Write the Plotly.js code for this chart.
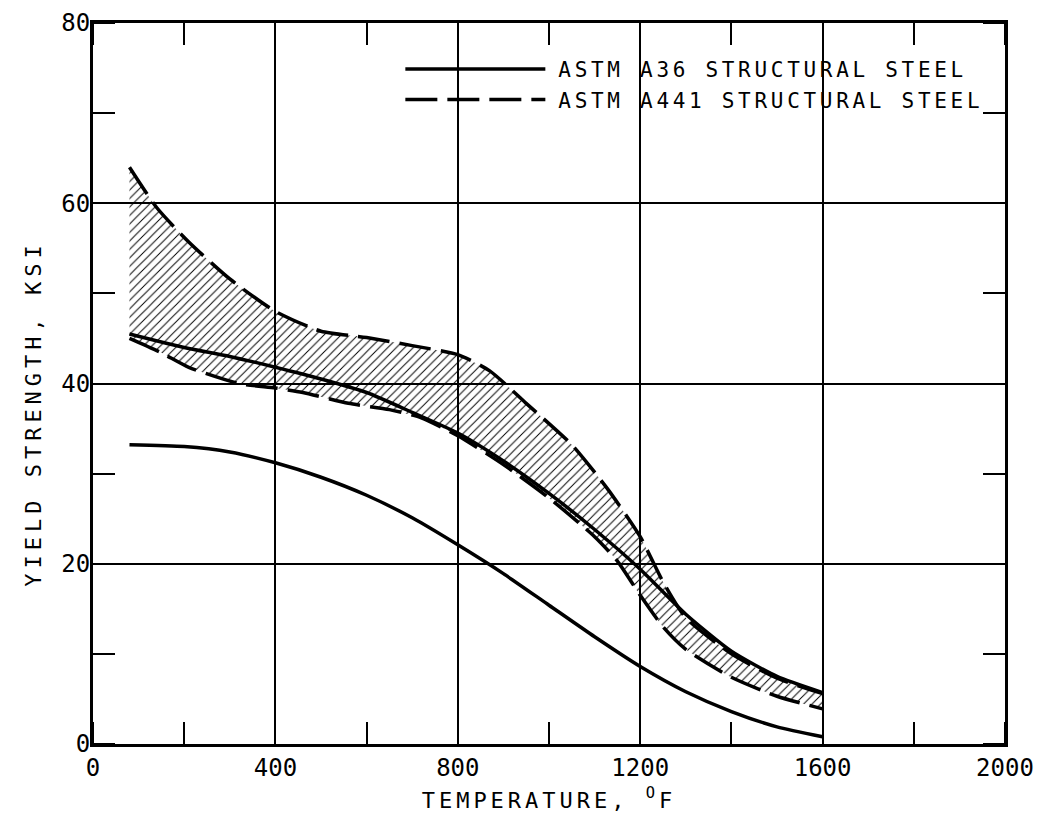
<!DOCTYPE html>
<html>
<head>
<meta charset="utf-8">
<script src="https://cdn.plot.ly/plotly-3.0.1.min.js"></script>
<style>
  html, body { margin: 0; padding: 0; background: #fff; }
  #chart { width: 1037px; height: 824px; }
  .legendtext { letter-spacing: 3.7px; }
  .g-xtitle text { letter-spacing: 4px; }
  .g-ytitle text { letter-spacing: 5px; }
</style>
</head>
<body>
<div id="chart"></div>
<script>
// ---- data ----
const a36LowTemp = [80, 200, 300, 400, 500, 600, 700, 800, 900, 1000, 1100, 1200, 1300, 1400, 1500, 1600];
const a36LowYield = [33.2, 33.0, 32.4, 31.2, 29.6, 27.6, 25.1, 22.1, 18.9, 15.4, 11.9, 8.6, 5.8, 3.6, 1.9, 0.8];

const a36UpTemp = [80, 200, 300, 400, 500, 600, 700, 800, 900, 1000, 1100, 1200, 1300, 1400, 1500, 1600];
const a36UpYield = [45.5, 44.0, 43.0, 41.8, 40.5, 39.0, 36.8, 34.5, 31.4, 27.8, 23.8, 19.4, 14.4, 10.3, 7.5, 5.7];

const a441UpTemp = [80, 140, 210, 300, 400, 500, 600, 700, 800, 870, 950, 1050, 1130, 1200, 1250, 1300, 1400, 1500, 1600];
const a441UpYield = [64.0, 59.5, 55.7, 51.6, 48.0, 45.8, 45.1, 44.2, 43.2, 41.4, 37.8, 33.2, 28.2, 23.0, 18.0, 14.0, 10.0, 7.3, 5.6];

const a441LowTemp = [80, 150, 210, 320, 400, 460, 560, 650, 720, 800, 900, 1000, 1100, 1150, 1200, 1250, 1300, 1400, 1500, 1600];
const a441LowYield = [45.0, 43.4, 41.8, 40.0, 39.5, 39.0, 37.8, 37.1, 36.2, 34.2, 31.0, 27.3, 23.0, 20.3, 16.5, 13.0, 10.5, 7.4, 5.3, 3.9];

const seriesNames = ['ASTM A36 STRUCTURAL STEEL', 'ASTM A441 STRUCTURAL STEEL'];
const xTickVals = [0, 400, 800, 1200, 1600, 2000];
const yTickVals = [0, 20, 40, 60, 80];

const FONT = 'DejaVu Sans Mono, monospace';
const DASH = '32px,10px';

const traces = [
  { x: a36UpTemp, y: a36UpYield, mode: 'lines', type: 'scatter',
    name: seriesNames[0],
    line: { color: '#000', width: 3.5, shape: 'spline', smoothing: 0.6 },
    hoverinfo: 'skip' },
  { x: a36LowTemp, y: a36LowYield, mode: 'lines', type: 'scatter',
    line: { color: '#000', width: 3.5, shape: 'spline', smoothing: 0.6 },
    showlegend: false, hoverinfo: 'skip' },
  { x: a441LowTemp, y: a441LowYield, mode: 'lines', type: 'scatter',
    line: { color: '#000', width: 3.5, dash: DASH, shape: 'spline', smoothing: 0.6 },
    showlegend: false, hoverinfo: 'skip' },
  { x: a441UpTemp, y: a441UpYield, mode: 'lines', type: 'scatter',
    name: seriesNames[1],
    line: { color: '#000', width: 3.5, dash: DASH, shape: 'spline', smoothing: 0.6 },
    fill: 'tonexty', fillcolor: 'rgba(0,0,0,0)',
    fillpattern: { shape: '/', size: 6, solidity: 0.16, fgcolor: '#000', bgcolor: 'rgba(255,255,255,0)' },
    hoverinfo: 'skip' }
];

const minorX = { dtick: 200, tick0: 0, ticks: 'inside', ticklen: 22, tickwidth: 2, tickcolor: '#000', showgrid: false };
const minorY = { dtick: 10, tick0: 0, ticks: 'inside', ticklen: 22, tickwidth: 2, tickcolor: '#000', showgrid: false };

const layout = {
  width: 1037, height: 824,
  margin: { l: 93, r: 32, t: 23, b: 80 },
  paper_bgcolor: '#fff', plot_bgcolor: '#fff',
  font: { family: FONT, color: '#000', size: 22 },
  showlegend: true,
  legend: {
    x: 0.337, xanchor: 'left', y: 0.964, yanchor: 'top',
    bgcolor: 'rgba(0,0,0,0)', borderwidth: 0, traceorder: 'normal',
    font: { family: FONT, size: 21, color: '#000' },
    tracegroupgap: 0, itemwidth: 30
  },
  xaxis: {
    range: [0, 2000], tickvals: xTickVals, ticktext: xTickVals.map(String),
    showgrid: true, gridcolor: '#000', gridwidth: 2, zeroline: false,
    showline: true, linecolor: '#000', linewidth: 3, mirror: 'ticks',
    ticks: '', minor: minorX,
    tickfont: { family: FONT, size: 24, color: '#000' },
    title: { text: 'TEMPERATURE, <sup>O</sup>F', font: { family: FONT, size: 22, color: '#000' }, standoff: 12 }
  },
  yaxis: {
    range: [0, 80], tickvals: yTickVals, ticktext: yTickVals.map(String),
    showgrid: true, gridcolor: '#000', gridwidth: 2, zeroline: false,
    showline: true, linecolor: '#000', linewidth: 3, mirror: 'ticks',
    ticks: '', minor: minorY, ticklabelstandoff: -5,
    tickfont: { family: FONT, size: 24, color: '#000' },
    title: { text: 'YIELD STRENGTH, KSI', font: { family: FONT, size: 22, color: '#000' }, standoff: 14 }
  }
};

Plotly.newPlot('chart', traces, layout, { staticPlot: true }).then(function () {
  // lengthen legend line samples to match the reference
  document.querySelectorAll('.legend .traces').forEach(function (tr) {
    tr.querySelectorAll('path.js-line').forEach(function (p) { p.setAttribute('d', 'M5,0h140'); });
    tr.querySelectorAll('.legendfill path').forEach(function (p) { p.remove(); });
    const t = tr.querySelector('text.legendtext');
    if (t) t.setAttribute('x', 158);
  });
  const sb = document.querySelector('.legend .scrollbox');
  if (sb) sb.removeAttribute('clip-path');
  // the reference's y title sits a little below the axis centre
  const yt = document.querySelector('.g-ytitle text');
  if (yt) yt.setAttribute('transform', 'translate(0,30) ' + (yt.getAttribute('transform') || ''));
});
</script>
</body>
</html>
